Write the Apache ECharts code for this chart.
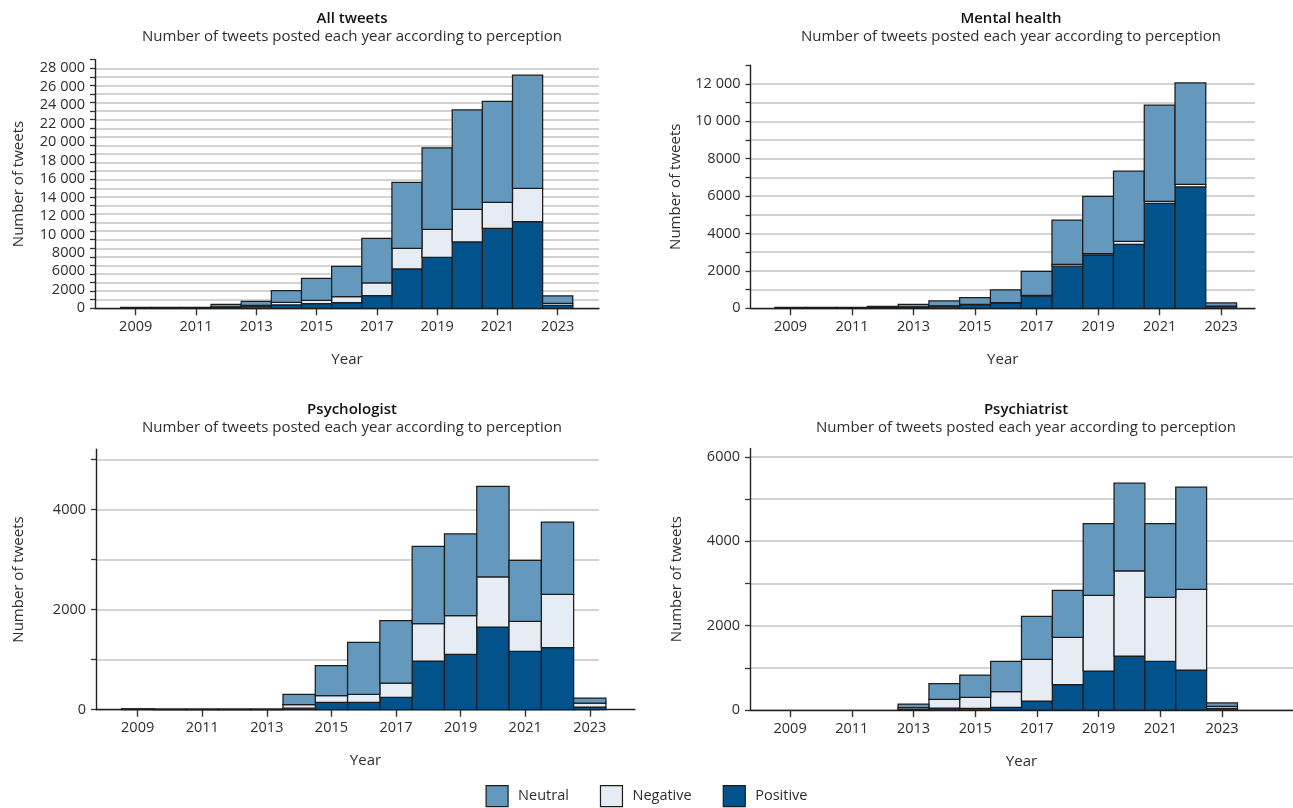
<!DOCTYPE html>
<html>
<head>
<meta charset="utf-8">
<script src="https://cdn.jsdelivr.net/npm/echarts@6/dist/echarts.min.js"></script>
<style>
  html, body { margin: 0; padding: 0; background: #ffffff; }
  #chart { width: 1293px; height: 808px; }
</style>
</head>
<body>
<div id="chart"></div>
<script>
// ---------------- DATA ----------------
const years = [2009, 2010, 2011, 2012, 2013, 2014, 2015, 2016, 2017, 2018, 2019, 2020, 2021, 2022, 2023];
const perceptions = ['Neutral', 'Negative', 'Positive'];

// All tweets
const allPositive = [40, 40, 40, 120, 250, 390, 545, 660, 1480, 4590, 5950, 7740, 9330, 10110, 350];
const allNegative = [20, 20, 20, 60, 100, 310, 385, 700, 1480, 2410, 3270, 3810, 3040, 3890, 230];
const allNeutral  = [50, 50, 50, 290, 470, 1360, 2570, 3540, 5210, 7700, 9490, 11590, 11780, 13190, 860];

// Mental health
const mhPositive = [20, 20, 20, 40, 70, 120, 196, 285, 660, 2250, 2850, 3420, 5615, 6490, 107];
const mhNegative = [5, 5, 5, 10, 10, 15, 20, 25, 30, 100, 70, 160, 100, 140, 15];
const mhNeutral  = [25, 25, 25, 57, 134, 257, 354, 670, 1290, 2370, 3070, 3750, 5155, 5420, 163];

// Psychologist
const psyPositive = [5, 3, 3, 3, 3, 30, 146, 146, 246, 972, 1105, 1651, 1165, 1238, 53];
const psyNegative = [4, 3, 3, 3, 3, 70, 134, 160, 287, 746, 772, 999, 599, 1066, 80];
const psyNeutral  = [6, 4, 4, 4, 4, 206, 599, 1039, 1245, 1544, 1632, 1811, 1219, 1444, 100];

// Psychiatrist
const psiPositive = [0, 0, 0, 0, 16, 47, 40, 63, 213, 600, 923, 1279, 1152, 947, 40];
const psiNegative = [0, 0, 0, 0, 39, 206, 260, 371, 987, 1121, 1792, 2021, 1516, 1910, 47];
const psiNeutral  = [0, 0, 0, 0, 87, 370, 529, 718, 1018, 1112, 1705, 2075, 1752, 2423, 79];

// Tick labels
const xTickYears = [2009, 2011, 2013, 2015, 2017, 2019, 2021, 2023];
const allYTickLabels = ['0', '2000', '6000', '8000', '10 000', '12 000', '14 000', '16 000', '18 000', '20 000', '22 000', '24 000', '26 000', '28 000'];
const mhYTickLabels = ['0', '2000', '4000', '6000', '8000', '10 000', '12 000'];
const psyYTickLabels = ['0', '2000', '4000'];
const psiYTickLabels = ['0', '2000', '4000', '6000'];

const panelTitles = ['All tweets', 'Mental health', 'Psychologist', 'Psychiatrist'];
const panelSubtitle = 'Number of tweets posted each year according to perception';

// ---------------- STYLE / LAYOUT ----------------
const COLORS = { Neutral: '#6498bc', Negative: '#e6ecf3', Positive: '#02528c' };
const EDGE = '#1c1c1c';
const TXT = '#2e2e2e';
const FONT = '"Open Sans", "Liberation Sans", sans-serif';

function parseLabel(s) { return Number(s.replace(/\s/g, '')); }

// The All-tweets panel in the reference prints its 14 labels evenly spaced over 0..28 000
const allLabelPos = allYTickLabels.map((s, i) => i * 28000 / (allYTickLabels.length - 1));

const panels = [
  { title: panelTitles[0], cx: 347, ty: 6, left: 95, top: 59.7, width: 504, height: 248.6, glWidth: 504,
    xMin: 2007.65, xMax: 2024.37, yMax: 29000, tickTop: 29000, nameGap: 69,
    labels: allYTickLabels, labelPos: allLabelPos,
    pos: allPositive, neg: allNegative, neu: allNeutral },
  { title: panelTitles[1], cx: 1006, ty: 6, left: 750.5, top: 65.2, width: 504.5, height: 243.1, glWidth: 504.5,
    xMin: 2007.70, xMax: 2024.10, yMax: 13000, tickTop: 13000, nameGap: 67,
    labels: mhYTickLabels, labelPos: mhYTickLabels.map(parseLabel),
    pos: mhPositive, neg: mhNegative, neu: mhNeutral },
  { title: panelTitles[2], cx: 347, ty: 397, left: 96, top: 449.3, width: 539, height: 260.4, glWidth: 503,
    xMin: 2007.71, xMax: 2024.40, yMax: 5200, tickTop: 5000, nameGap: 70,
    labels: psyYTickLabels, labelPos: psyYTickLabels.map(parseLabel),
    pos: psyPositive, neg: psyNegative, neu: psyNeutral },
  { title: panelTitles[3], cx: 1021, ty: 397, left: 750, top: 448.4, width: 543, height: 261.6, glWidth: 543,
    xMin: 2007.70, xMax: 2025.30, yMax: 6200, tickTop: 6000, nameGap: 66,
    labels: psiYTickLabels, labelPos: psiYTickLabels.map(parseLabel),
    pos: psiPositive, neg: psiNegative, neu: psiNeutral }
];

function renderItem(params, api) {
  const year = api.value(0), lo = api.value(1), hi = api.value(2);
  if (!(hi - lo > 0)) return null;
  const p0 = api.coord([year - 0.5, hi]);
  const p1 = api.coord([year + 0.5, lo]);
  return {
    type: 'rect',
    shape: { x: p0[0], y: p0[1], width: p1[0] - p0[0], height: p1[1] - p0[1] },
    style: { fill: api.visual('color'), stroke: EDGE, lineWidth: 1.25 }
  };
}

const titles = [], grids = [], xAxes = [], yAxes = [], series = [];

panels.forEach((p, k) => {
  titles.push({
    text: p.title, subtext: panelSubtitle,
    left: p.cx, top: p.ty, textAlign: 'center', itemGap: 3,
    textStyle: { fontFamily: FONT, fontSize: 15, fontWeight: 600, color: '#111' },
    subtextStyle: { fontFamily: FONT, fontSize: 15, color: TXT }
  });

  const gA = 2 * k, gB = 2 * k + 1;
  // Grid A: gridlines only
  grids.push({ left: p.left, top: p.top, width: p.glWidth, height: p.height, containLabel: false });
  // Grid B: data + axes
  grids.push({ left: p.left, top: p.top, width: p.width, height: p.height, containLabel: false });

  const tickVals = [];
  for (let v = 0; v <= p.tickTop; v += 1000) tickVals.push(v);

  xAxes.push({ gridIndex: gA, type: 'value', min: p.xMin, max: p.xMin + (p.xMax - p.xMin) * p.glWidth / p.width, show: false });
  yAxes.push({
    gridIndex: gA, type: 'value', min: 0, max: p.yMax, interval: 1000,
    axisLine: { show: false }, axisTick: { show: false }, axisLabel: { show: false },
    splitLine: { show: true, showMaxLine: false, lineStyle: { color: '#c4c4c4', width: 1.6 } }
  });

  xAxes.push({
    gridIndex: gB, type: 'value', min: p.xMin, max: p.xMax,
    name: 'Year', nameLocation: 'middle', nameGap: 44,
    nameTextStyle: { fontFamily: FONT, fontSize: 15, color: TXT },
    axisLine: { show: true, onZero: false, lineStyle: { color: '#222', width: 1.4 } },
    axisTick: { show: true, customValues: xTickYears, length: 7, lineStyle: { color: '#333', width: 1.4 } },
    axisLabel: { customValues: xTickYears, formatter: v => String(v), margin: 11,
      fontFamily: FONT, fontSize: 14.5, color: TXT },
    splitLine: { show: false }
  });

  const labelMap = {};
  p.labelPos.forEach((v, i) => { labelMap[Math.round(v)] = p.labels[i]; });
  yAxes.push({
    gridIndex: gB, type: 'value', min: 0, max: p.yMax, interval: 1000,
    name: 'Number of tweets', nameLocation: 'middle', nameGap: p.nameGap,
    nameTextStyle: { fontFamily: FONT, fontSize: 15, color: TXT },
    axisLine: { show: true, lineStyle: { color: '#222', width: 1.4 } },
    axisTick: { show: true, customValues: tickVals, length: 5, lineStyle: { color: '#333', width: 1.3 } },
    axisLabel: { customValues: p.labelPos, formatter: v => labelMap[Math.round(v)] || '', margin: 10,
      fontFamily: FONT, fontSize: 14.5, color: TXT },
    splitLine: { show: false }
  });

  // stacked layers: Positive bottom, Negative middle, Neutral top
  const dPos = years.map((y, i) => [y, 0, p.pos[i]]);
  const dNeg = years.map((y, i) => [y, p.pos[i], p.pos[i] + p.neg[i]]);
  const dNeu = years.map((y, i) => [y, p.pos[i] + p.neg[i], p.pos[i] + p.neg[i] + p.neu[i]]);
  [['Positive', dPos], ['Negative', dNeg], ['Neutral', dNeu]].forEach(([name, data]) => {
    series.push({
      type: 'custom', name, xAxisIndex: gB, yAxisIndex: gB,
      renderItem, itemStyle: { color: COLORS[name] },
      encode: { x: 0, y: [1, 2] }, data, z: 3
    });
  });
});

const chart = echarts.init(document.getElementById('chart'), null, { renderer: 'canvas' });
chart.setOption({
  backgroundColor: '#ffffff',
  animation: false,
  title: titles,
  grid: grids,
  xAxis: xAxes,
  yAxis: yAxes,
  legend: {
    left: 'center', top: 785, icon: 'rect', padding: 0,
    itemWidth: 22, itemHeight: 21, itemGap: 31,
    textStyle: { fontFamily: FONT, fontSize: 14.5, color: TXT, padding: [0, 0, 0, 5] },
    data: perceptions.map(n => ({ name: n, itemStyle: { color: COLORS[n], borderColor: EDGE, borderWidth: 1.2 } }))
  },
  series
});
</script>
</body>
</html>
